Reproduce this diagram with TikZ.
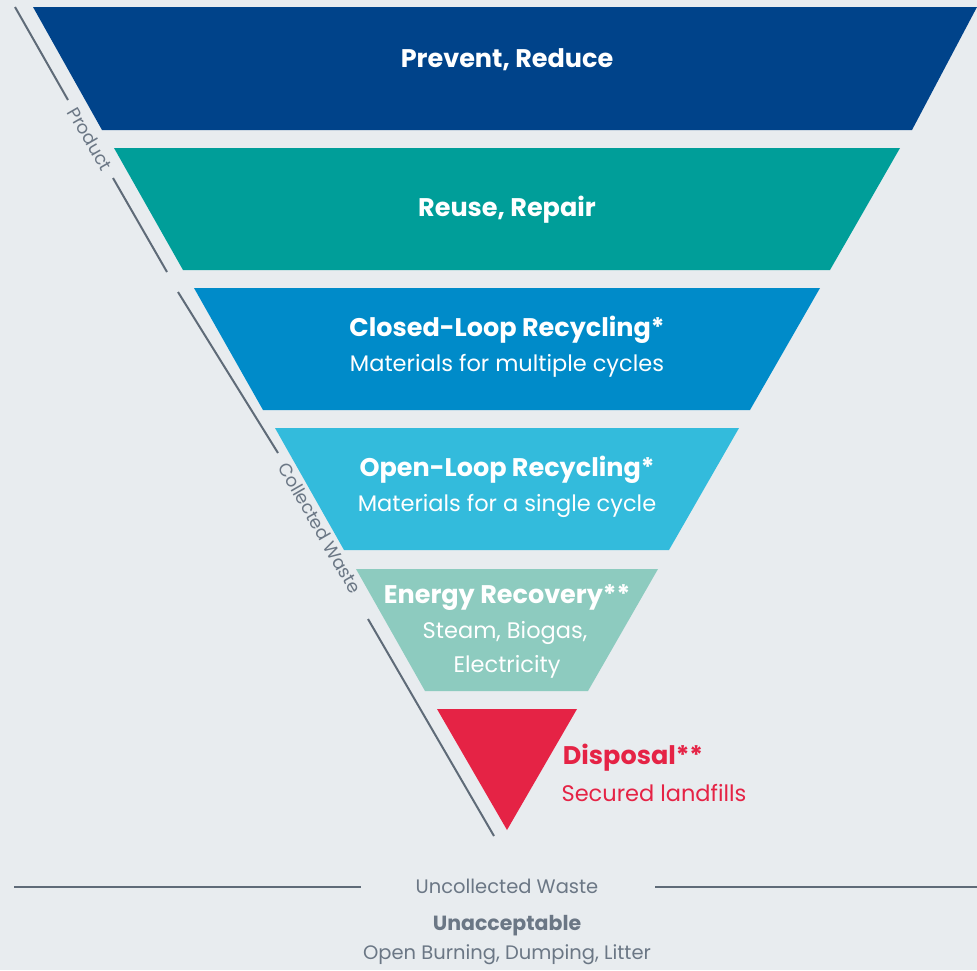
\documentclass[tikz,border=0pt]{standalone}
\usepackage{fontspec}
\setmainfont{Poppins}
\usetikzlibrary{positioning}

\definecolor{bggray}{HTML}{E8ECEF}
\definecolor{tierA}{HTML}{00438A}
\definecolor{tierB}{HTML}{009E99}
\definecolor{tierC}{HTML}{008BC9}
\definecolor{tierD}{HTML}{33BBDC}
\definecolor{tierE}{HTML}{8DCBBF}
\definecolor{tierF}{HTML}{E52345}
\definecolor{guidegray}{HTML}{5F6B78}
\definecolor{notegray}{HTML}{6B7785}

\tikzstyle{title}=[text=white,font=\bfseries\fontsize{25.5}{25.5}\selectfont,inner sep=0pt]
\tikzstyle{sub}=[text=white,font=\fontsize{22.5}{22.5}\selectfont,inner sep=0pt]
\tikzstyle{guide}=[draw=guidegray,line width=2pt]
\tikzstyle{side}=[text=notegray,font=\fontsize{18}{18}\selectfont,inner sep=0pt,rotate=-60]
\tikzstyle{note}=[text=notegray,font=\fontsize{19.5}{19.5}\selectfont,inner sep=0pt]

\begin{document}
\begin{tikzpicture}[x=1pt, y=-1pt]
		\fill[bggray] (0,0) rectangle (977,970);
		\useasboundingbox (0,0) rectangle (977,970);

		% tiers
		\fill[tierA] (33,7)   -- (977,7)   -- (912,130) -- (102,130) -- cycle;
		\fill[tierB] (114,148) -- (900,148) -- (830,270) -- (183,270) -- cycle;
		\fill[tierC] (194,288) -- (820,288) -- (750,410) -- (263,410) -- cycle;
		\fill[tierD] (275,428) -- (739,428) -- (669,550) -- (344,550) -- cycle;
		\fill[tierE] (356,569) -- (658,569) -- (588,691) -- (425,691) -- cycle;
		\fill[tierF] (437,709) -- (577,709) -- (507,830) -- cycle;

		\node [title] (prevent)  at (507, 60)  {Prevent, Reduce};
		\node [title] (reuse)    at (507,210)  {Reuse, Repair};
		\node [title] (closed)   at (507,330)  {Closed-Loop Recycling*};
		\node [sub]   (closedm)  at (507,366)  {Materials for multiple cycles};
		\node [title] (open)     at (507,470)  {Open-Loop Recycling*};
		\node [sub]   (openm)    at (507,506)  {Materials for a single cycle};
		\node [title] (energy)   at (507,598)  {Energy Recovery**};
		\node [sub]   (energym1) at (505,633)  {Steam, Biogas,};
		\node [sub]   (energym2) at (507,667)  {Electricity};
		\node [title, text=tierF] (disposal)  at (633,758) {Disposal**};
		\node [sub,   text=tierF] (disposalm) at (654,793) {Secured landfills};

		% side guides
		\coordinate (prodtop)  at (15,7);
		\coordinate (prodend)  at (68,100);
		\coordinate (prodbeg)  at (113,178);
		\coordinate (prodbot)  at (167,272);
		\coordinate (colltop)  at (178,292);
		\coordinate (collend)  at (278,453);
		\coordinate (collbeg)  at (368,619);
		\coordinate (collbot)  at (494,836);
		\node [side] (product)   at (90,139)  {Product};
		\node [side] (collected) at (320,528) {Collected Waste};
		\draw [guide] (prodtop) -- (prodend);
		\draw [guide] (prodbeg) -- (prodbot);
		\draw [guide] (colltop) -- (collend);
		\draw [guide] (collbeg) -- (collbot);

		% uncollected
		\coordinate (uleft)   at (14,887);
		\coordinate (uleftend) at (361,887);
		\coordinate (urightbeg) at (655,887);
		\coordinate (uright)  at (977,887);
		\node [note] (uncollected) at (507,886) {Uncollected Waste};
		\node [note, font=\bfseries\fontsize{20.5}{20.5}\selectfont] (unaccept) at (507,926) {Unacceptable};
		\node [note] (burning) at (507,955) {Open Burning, Dumping, Litter};
		\draw [guide] (uleft) -- (uleftend);
		\draw [guide] (urightbeg) -- (uright);
	\end{tikzpicture}
\end{document}
